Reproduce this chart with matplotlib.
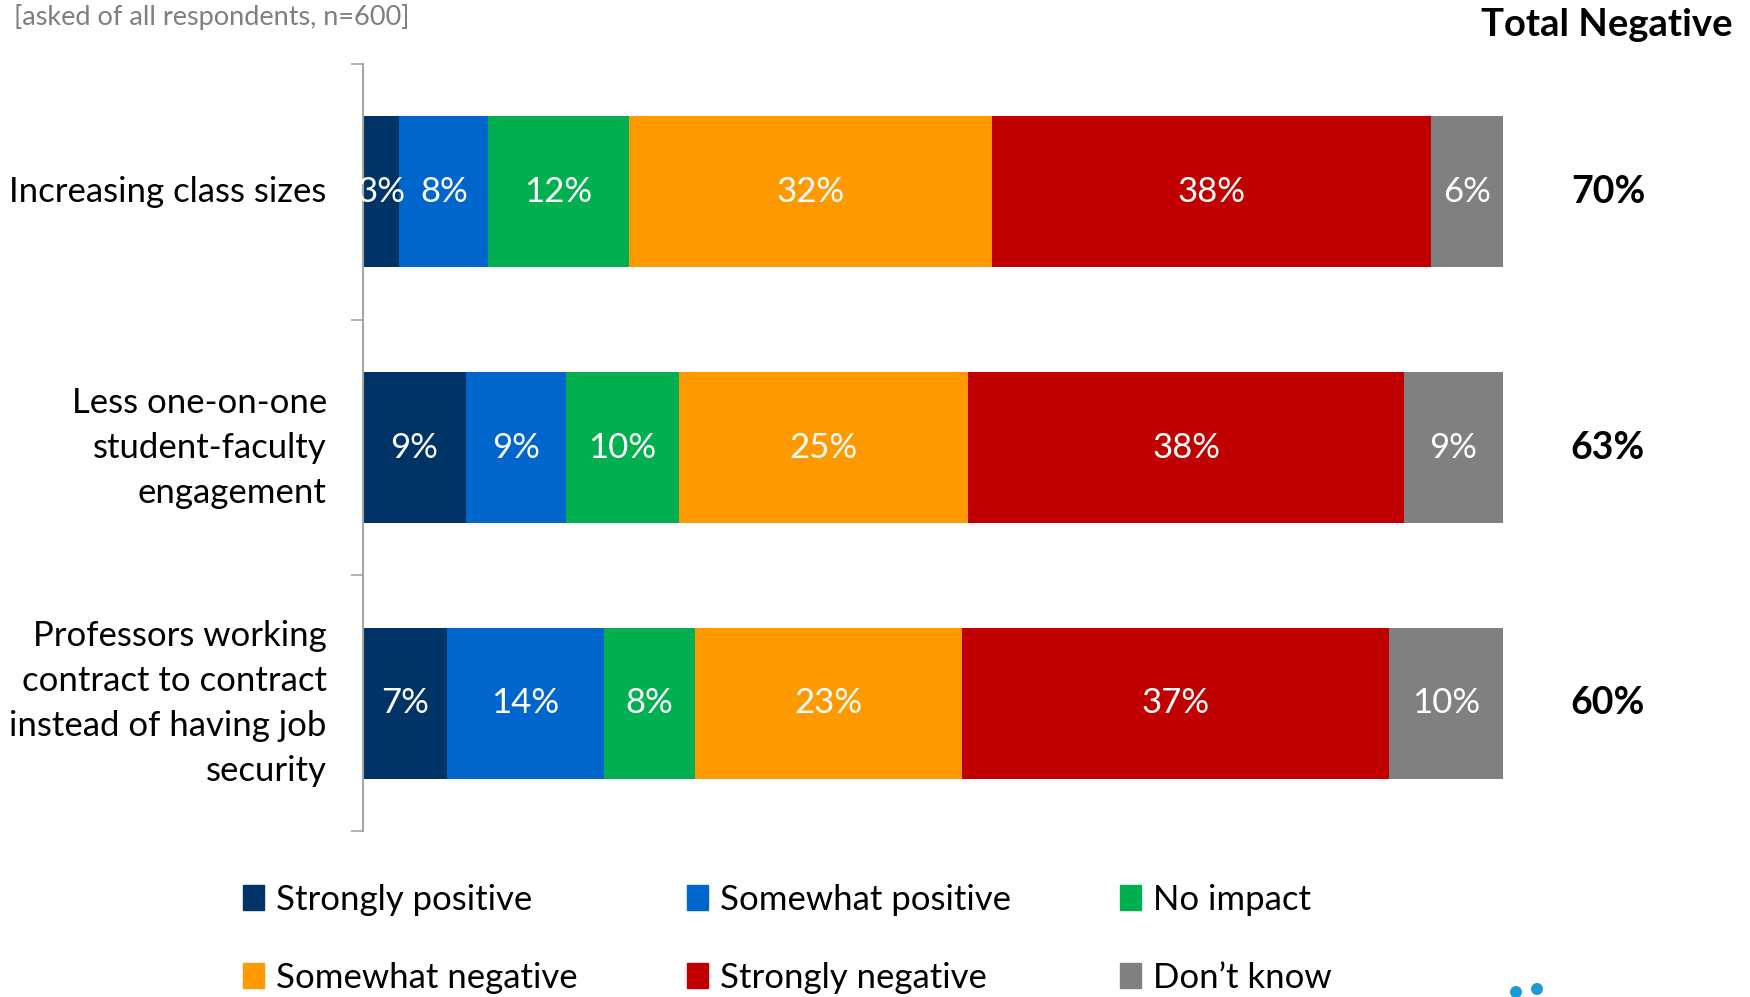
import matplotlib
matplotlib.use("Agg")
import matplotlib.pyplot as plt
import numpy as np
from matplotlib.patches import Patch, Ellipse

plt.rcParams['font.family'] = ['Lato', 'DejaVu Sans']

categories = ["Increasing class sizes",
              "Less one-on-one\nstudent-faculty\nengagement",
              "Professors working\ncontract to contract\ninstead of having job\nsecurity"]
series_names = ["Strongly positive", "Somewhat positive", "No impact",
                "Somewhat negative", "Strongly negative", "Don\u2019t know"]
colors = ["#003366", "#0066CC", "#00B050", "#FF9900", "#C00000", "#808080"]
strongly_positive = [3.2, 9.0, 7.4]
somewhat_positive = [7.8, 8.8, 13.7]
no_impact = [12.3, 9.9, 8.0]
somewhat_negative = [31.9, 25.4, 23.45]
strongly_negative = [38.45, 38.2, 37.45]
dont_know = [6.45, 8.7, 10.0]
total_negative = [70, 63, 60]

series = [strongly_positive, somewhat_positive, no_impact,
          somewhat_negative, strongly_negative, dont_know]

fig = plt.figure(figsize=(17.5, 9.97), dpi=100)
ax = fig.add_axes([0.2074, 0.1665, 0.6515, 0.7693])

y = np.arange(len(categories))
left = np.zeros(len(categories))
handles = []
for name, vals, col in zip(series_names, series, colors):
    vals = np.array(vals)
    ax.barh(y, vals, left=left, height=0.59, color=col, label=name, linewidth=0)
    for yi, l, v in zip(y, left, vals):
        ax.text(l + v / 2, yi, f"{round(v)}%", ha="center", va="center",
                color="white", fontsize=25)
    handles.append(Patch(color=col, label=name))
    left = left + vals

ax.set_xlim(0, 100)
ax.set_ylim(2.5, -0.5)
ax.set_yticks(y)
ax.set_yticklabels(categories, fontsize=25, linespacing=1.5, va="center")
ax.tick_params(axis="y", which="major", length=0, pad=26)
ax.set_yticks([-0.5, 0.5, 1.5, 2.5], minor=True)
ax.tick_params(axis="y", which="minor", length=9, width=1.2, color="#A6A6A6")
ax.set_xticks([])
for s in ["top", "right", "bottom"]:
    ax.spines[s].set_visible(False)
ax.spines["left"].set_color("#A6A6A6")
ax.spines["left"].set_linewidth(1.5)

for yi, tn in zip(y, total_negative):
    ax.text(1.092, yi, f"{tn}%", transform=ax.get_yaxis_transform(),
            ha="center", va="center", fontsize=27, fontweight="bold", color="black")

fig.text(0.918, 0.975, "Total Negative", ha="center", va="center",
         fontsize=27.5, fontweight="bold", color="black")
fig.text(0.008, 0.983, "[asked of all respondents, n=600]", ha="left", va="center",
         fontsize=19.5, color="#7F7F7F")

order = [0, 3, 1, 4, 2, 5]
fig.legend([handles[i] for i in order], [series_names[i] for i in order],
           ncol=3, loc="upper left", bbox_to_anchor=(0.121, 0.145),
           frameon=False, fontsize=25, handlelength=0.6, handleheight=0.75,
           handletextpad=0.35, columnspacing=3.15, labelspacing=1.32)

# partial logo dots at the bottom edge
for cx, cy in [(1516, 992), (1537, 989)]:
    fig.patches.append(Ellipse((cx / 1750, 1 - cy / 997), 12 / 1750, 12 / 997,
                               transform=fig.transFigure, color="#1A9AD6", lw=0))

fig.savefig("out.png", dpi=100)
